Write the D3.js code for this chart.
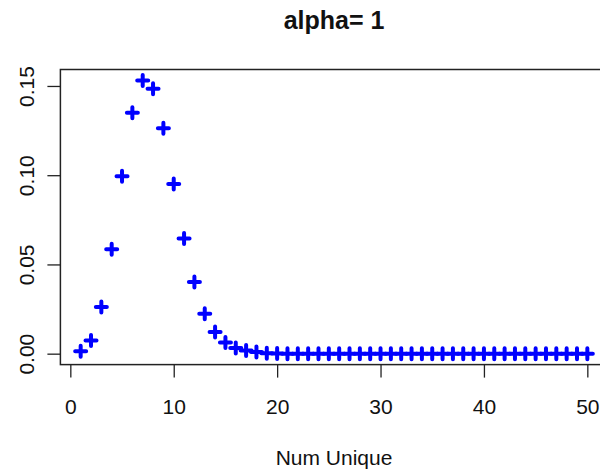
<!DOCTYPE html>
<html>
<head>
<meta charset="utf-8">
<script src="https://cdn.jsdelivr.net/npm/d3@7"></script>
<style>
  body { margin: 0; background: #fff; }
  svg { display: block; font-family: "Liberation Sans", Arial, sans-serif; }
</style>
</head>
<body>
<div class="chart"></div>
<script>
// number of unique values and their probability
let numUnique = d3.range(1, 51);
let prob = [
  0.0013, 0.0074, 0.0261, 0.0585, 0.0994, 0.1350, 0.1531, 0.1484, 0.1263, 0.0950,
  0.0646, 0.0401, 0.0223, 0.0121, 0.0063, 0.0032, 0.0018, 0.0009, 0.0003, 0.0001,
  0, 0, 0, 0, 0, 0, 0, 0, 0, 0,
  0, 0, 0, 0, 0, 0, 0, 0, 0, 0,
  0, 0, 0, 0, 0, 0, 0, 0, 0, 0
];
let xTicks = [0, 10, 20, 30, 40, 50];
let yTicks = [0, 0.05, 0.10, 0.15];
let title = 'alpha= 1';
let xLabel = 'Num Unique';

let W = 600, H = 474;
let plot = {left: 60.4, right: 607.6, top: 69.5, bottom: 364.6};

let svg = d3.select('.chart')
  .append('svg')
    .attr('width', W)
    .attr('height', H);

// R style 4% padding on both axes
let xMin = d3.min(numUnique), xMax = d3.max(numUnique);
let xPad = (xMax - xMin) * 0.04;
let xScale = d3.scaleLinear()
  .domain([xMin - xPad, xMax + xPad])
  .range([plot.left, plot.right]);

let yMax = d3.max(prob);
let yScale = d3.scaleLinear()
  .domain([-yMax * 0.04, yMax * 1.04])
  .range([plot.bottom, plot.top]);

// points (pch = 3)
svg.append('g')
  .selectAll('path')
  .data(numUnique)
  .join('path')
    .attr('transform', (d, i) => `translate(${xScale(d)}, ${yScale(prob[i])})`)
    .attr('d', 'M-5.5,0H5.5M0,-5.5V5.5')
    .style('stroke', '#0000ff')
    .style('stroke-width', 4)
    .style('stroke-linecap', 'round')
    .style('fill', 'none');

// box
svg.append('rect')
  .attr('x', plot.left)
  .attr('y', plot.top)
  .attr('width', plot.right - plot.left)
  .attr('height', plot.bottom - plot.top)
  .style('fill', 'none')
  .style('stroke', '#222')
  .style('stroke-width', 1.5);

let xAxis = d3.axisBottom(xScale)
  .tickValues(xTicks)
  .tickFormat(d3.format('d'))
  .tickSizeInner(13)
  .tickSizeOuter(0)
  .tickPadding(21.5);
let gx = svg.append('g')
  .attr('transform', `translate(0, ${plot.bottom})`)
  .call(xAxis);
gx.select('.domain').remove();
gx.selectAll('line').style('stroke', '#222').style('stroke-width', 1.3);
gx.selectAll('text').style('font-size', '21px').style('fill', '#111').style('font-family', null);

let yAxis = d3.axisLeft(yScale)
  .tickValues(yTicks)
  .tickFormat(d3.format('.2f'))
  .tickSizeInner(13)
  .tickSizeOuter(0);
let gy = svg.append('g')
  .attr('transform', `translate(${plot.left}, 0)`)
  .call(yAxis);
gy.select('.domain').remove();
gy.selectAll('line').style('stroke', '#222').style('stroke-width', 1.3);
gy.selectAll('text')
  .attr('x', 0)
  .attr('dy', 0)
  .attr('transform', 'translate(-26, 0) rotate(-90)')
  .style('text-anchor', 'middle')
  .style('font-size', '21px')
  .style('fill', '#111')
  .style('font-family', null);

// title and label
svg.append('text')
  .attr('x', (plot.left + plot.right) / 2)
  .attr('y', 29)
  .style('text-anchor', 'middle')
  .style('font-size', '25px')
  .style('font-weight', 'bold')
  .style('fill', '#111')
  .text(title);

svg.append('text')
  .attr('x', (plot.left + plot.right) / 2)
  .attr('y', 465)
  .style('text-anchor', 'middle')
  .style('font-size', '21px')
  .style('fill', '#111')
  .text(xLabel);
</script>
</body>
</html>
